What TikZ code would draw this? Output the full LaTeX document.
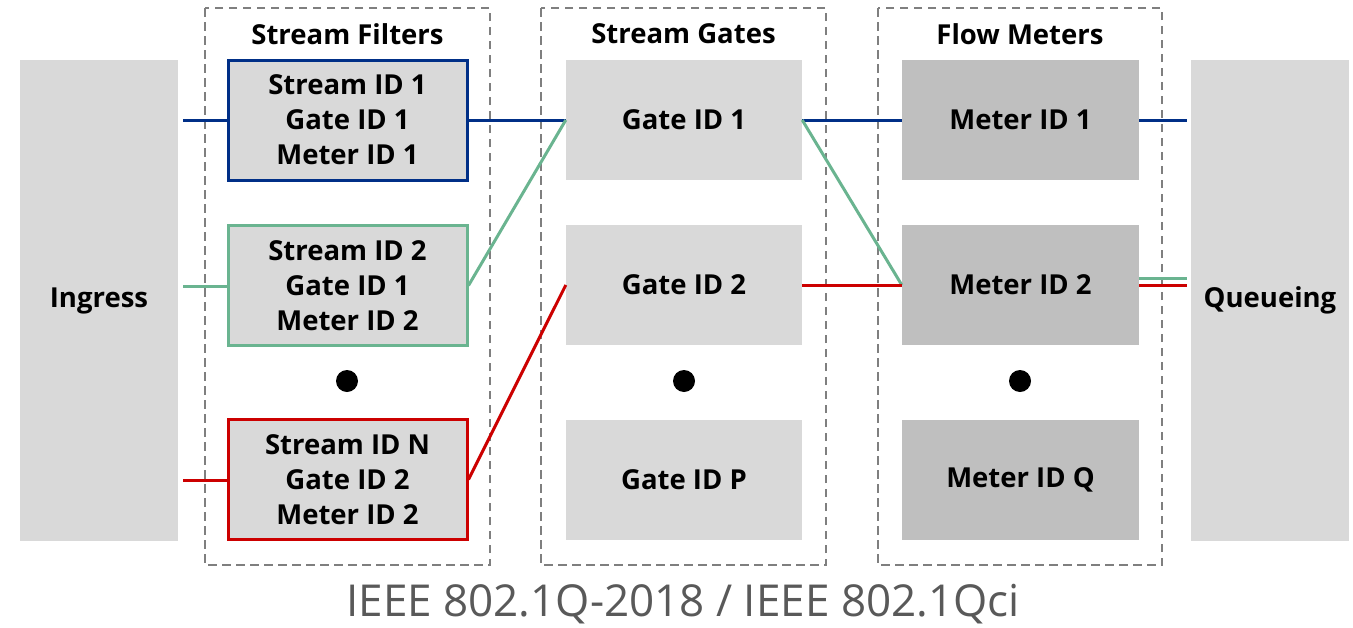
\documentclass[tikz,border=0pt]{standalone}
\usepackage{fontspec}
\setmainfont{Open Sans}
\usetikzlibrary{calc}
\definecolor{boxgray}{HTML}{D9D9D9}
\definecolor{metergray}{HTML}{BFBFBF}
\definecolor{dashgray}{HTML}{7F7F7F}
\definecolor{capgray}{HTML}{595959}
\definecolor{lblue}{HTML}{002F87}
\definecolor{lgreen}{HTML}{6AB490}
\definecolor{lred}{HTML}{CC0000}
\tikzset{
  group/.style={draw=dashgray, line width=1.3pt, dash pattern=on 8.5pt off 5.5pt},
  sidebox/.style={fill=boxgray, minimum width=158pt, minimum height=481pt, font=\bfseries\fontsize{27.5}{30}\selectfont},
  filterbox/.style={fill=boxgray, line width=3pt, minimum width=239pt, minimum height=120pt, align=center, font=\bfseries\fontsize{27.5}{35}\selectfont},
  gatebox/.style={fill=boxgray, minimum width=236pt, minimum height=120pt, font=\bfseries\fontsize{27.5}{35}\selectfont},
  meterbox/.style={fill=metergray, minimum width=237pt, minimum height=120pt, font=\bfseries\fontsize{27.5}{35}\selectfont},
  grouptitle/.style={font=\bfseries\fontsize{27.5}{30}\selectfont},
  wire/.style={line width=3pt},
  dot/.style={circle, fill=black, minimum size=22pt, inner sep=0pt},
}
\begin{document}
\begin{tikzpicture}[x=1pt, y=-1pt]
\useasboundingbox (0,0) rectangle (1353,627);

% dashed group frames
\draw[group] (205,8) rectangle (490,565);
\draw[group] (541,8) rectangle (826,565);
\draw[group] (878,8) rectangle (1162,565);
\node[grouptitle] (t1) at (347.5,34) {Stream Filters};
\node[grouptitle] (t2) at (683.5,34) {Stream Gates};
\node[grouptitle] (t3) at (1020,34) {Flow Meters};

% ingress / queueing
\node[sidebox] (ing) at (99,300.5) {Ingress};
\node[sidebox] (que) at (1270,300.5) {Queueing};

% stream filters
\node[filterbox, draw=lblue] (f1) at (347.5,120) {Stream ID 1\\Gate ID 1\\Meter ID 1};
\node[filterbox, draw=lgreen] (f2) at (347.5,285.5) {Stream ID 2\\Gate ID 1\\Meter ID 2};
\node[filterbox, draw=lred] (f3) at (347.5,479.5) {Stream ID N\\Gate ID 2\\Meter ID 2};
\node[dot] (d1) at (347,381) {};

% stream gates
\node[gatebox] (g1) at (684,120) {Gate ID 1};
\node[gatebox] (g2) at (684,285) {Gate ID 2};
\node[gatebox] (g3) at (684,479.5) {Gate ID P};
\node[dot] (d2) at (684,381) {};

% flow meters
\node[meterbox] (m1) at (1020.5,120) {Meter ID 1};
\node[meterbox] (m2) at (1020.5,285) {Meter ID 2};
\node[meterbox] (m3) at (1020.5,479.5) {Meter ID Q};
\node[dot] (d3) at (1020,381) {};

% free wire ends
\coordinate (in1) at (183,120);
\coordinate (in2) at (183,286);
\coordinate (in3) at (183,480);
\coordinate (out1) at (1187,120);
\coordinate (out2g) at (1187,278);
\coordinate (out2r) at (1187,285);

% blue path
\draw[wire, lblue] (in1) -- (f1.west);
\draw[wire, lblue] (f1.east) -- (g1.west);
\draw[wire, lblue] (g1.east) -- (m1.west);
\draw[wire, lblue] (m1.east) -- (out1);

% green path
\draw[wire, lgreen] (in2) -- (f2.west |- in2);
\draw[wire, lgreen] (f2.east) -- (g1.west);
\draw[wire, lgreen] (g1.east) -- (m2.west);
\draw[wire, lgreen] (m2.east |- out2g) -- (out2g);

% red path
\draw[wire, lred] (in3) -- (f3.west |- in3);
\draw[wire, lred] (f3.east) -- (g2.west);
\draw[wire, lred] (g2.east) -- (m2.west);
\draw[wire, lred] (m2.east) -- (out2r);

% caption
\node[text=capgray, font=\fontsize{44}{50}\selectfont] (cap) at (683,604) {IEEE 802.1Q-2018 / IEEE 802.1Qci};
\end{tikzpicture}
\end{document}
